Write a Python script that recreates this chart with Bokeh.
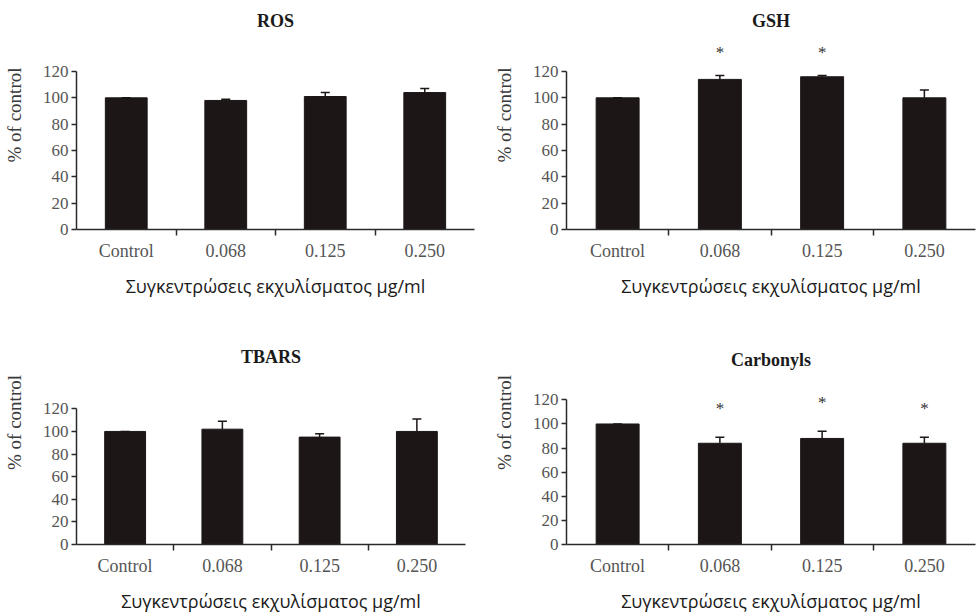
from bokeh.plotting import figure
from bokeh.models import Range1d, FixedTicker, Label, ColumnDataSource, Whisker, TeeHead
from bokeh.layouts import column, row
from bokeh.core.properties import value
from bokeh.embed import file_html
from bokeh.resources import INLINE

categories = ["Control", "0.068", "0.125", "0.250"]
y_ticks = [0, 20, 40, 60, 80, 100, 120]

ros_mean = [100, 98, 101, 104]
ros_err = [0, 1, 3, 3]
gsh_mean = [100, 114, 116, 100]
gsh_err = [0, 3, 1, 6]
tbars_mean = [100, 102, 95, 100]
tbars_err = [0, 7, 3, 11]
carb_mean = [100, 84, 88, 84]
carb_err = [0, 5, 6, 5]

ros_sig = ["", "", "", ""]
gsh_sig = ["", "*", "*", ""]
tbars_sig = ["", "", "", ""]
carb_sig = ["", "*", "*", "*"]

x_title = "Συγκεντρώσεις εκχυλίσματος μg/ml"
y_title = "% of control"

SERIF = "Liberation Serif"
SANS = "Open Sans"
BAR = "#1c1616"
AXIS = "#2a2a2a"
TICKLAB = "#555555"


def make_panel(title, means, errs, sig, width, height, left, right,
               y0_px, y120_px, title_px, star_off):
    ymax = 120.0 * y0_px / (y0_px - y120_px)
    p = figure(width=width, height=height, output_backend="svg",
               toolbar_location=None, x_range=Range1d(0, 4),
               y_range=Range1d(0, ymax), min_border_left=left,
               min_border_right=width - right, min_border_top=0,
               min_border_bottom=height - y0_px)
    p.title = None
    p.outline_line_color = None
    p.xgrid.visible = False
    p.ygrid.visible = False
    p.background_fill_color = "white"
    p.border_fill_color = "white"

    xs = [i + 0.5 for i in range(len(categories))]
    tops = [m + e for m, e in zip(means, errs)]
    src = ColumnDataSource(dict(x=xs, mean=means, top=tops, sig=sig))

    p.vbar(x="x", top="mean", bottom=0, width=0.42, source=src,
           fill_color=BAR, line_color=BAR)
    w = Whisker(source=src, base="x", lower="mean", upper="top",
                line_color=BAR, line_width=1.5,
                upper_head=TeeHead(size=9, line_color=BAR, line_width=1.5),
                lower_head=None)
    p.add_layout(w)
    p.text(x="x", y="top", text="sig", source=src, y_offset=-star_off,
           text_align="center", text_baseline="middle",
           text_font=value(SERIF), text_font_size="17px",
           text_color="#333333")

    ppu = (y0_px - y120_px) / 120.0
    p.add_layout(Label(x=2, y=(y0_px - title_px) / ppu, text=title,
                       text_align="center", text_baseline="middle",
                       text_font=SERIF, text_font_style="bold",
                       text_font_size="18px", text_color="#1a1a1a"))

    xa = p.xaxis[0]
    xa.ticker = FixedTicker(ticks=xs, minor_ticks=[1, 2, 3])
    xa.major_label_overrides = {x: c for x, c in zip(xs, categories)}
    xa.major_tick_out = 0
    xa.major_tick_in = 0
    xa.minor_tick_out = 6
    xa.minor_tick_in = 0
    xa.minor_tick_line_color = AXIS
    xa.minor_tick_line_width = 1.5
    xa.axis_line_color = AXIS
    xa.axis_line_width = 1.5
    xa.major_label_text_font = SERIF
    xa.major_label_text_font_size = "18px"
    xa.major_label_text_color = TICKLAB
    xa.major_label_standoff = 5
    xa.axis_label = x_title
    xa.axis_label_text_font = SANS
    xa.axis_label_text_font_size = "18px"
    xa.axis_label_text_font_style = "normal"
    xa.axis_label_text_color = "#1a1a1a"
    xa.axis_label_standoff = 10

    ya = p.yaxis[0]
    ya.ticker = FixedTicker(ticks=y_ticks, minor_ticks=[])
    ya.bounds = (0, 120)
    ya.major_tick_out = 5
    ya.major_tick_in = 0
    ya.minor_tick_out = 0
    ya.minor_tick_in = 0
    ya.major_tick_line_color = AXIS
    ya.major_tick_line_width = 1.5
    ya.axis_line_color = AXIS
    ya.axis_line_width = 1.5
    ya.major_label_text_font = SERIF
    ya.major_label_text_font_size = "17px"
    ya.major_label_text_color = TICKLAB
    ya.major_label_standoff = 3
    ya.axis_label = y_title
    ya.axis_label_text_font = SERIF
    ya.axis_label_text_font_size = "19px"
    ya.axis_label_text_font_style = "normal"
    ya.axis_label_text_color = "#3a3a3a"
    ya.axis_label_standoff = 15
    return p


p1 = make_panel("ROS", ros_mean, ros_err, ros_sig, 490, 300, 72, 474,
                229, 71, 20, 23)
p2 = make_panel("GSH", gsh_mean, gsh_err, gsh_sig, 486, 300, 72, 485,
                229, 71, 20, 23)
p3 = make_panel("TBARS", tbars_mean, tbars_err, tbars_sig, 490, 315, 68, 465,
                250, 111, 58, 27)
p4 = make_panel("Carbonyls", carb_mean, carb_err, carb_sig, 486, 315, 70, 485,
                248, 101, 60, 29)

layout = column(row(p1, p2), row(p3, p4))
open("out.html", "w").write(file_html(layout, INLINE))
